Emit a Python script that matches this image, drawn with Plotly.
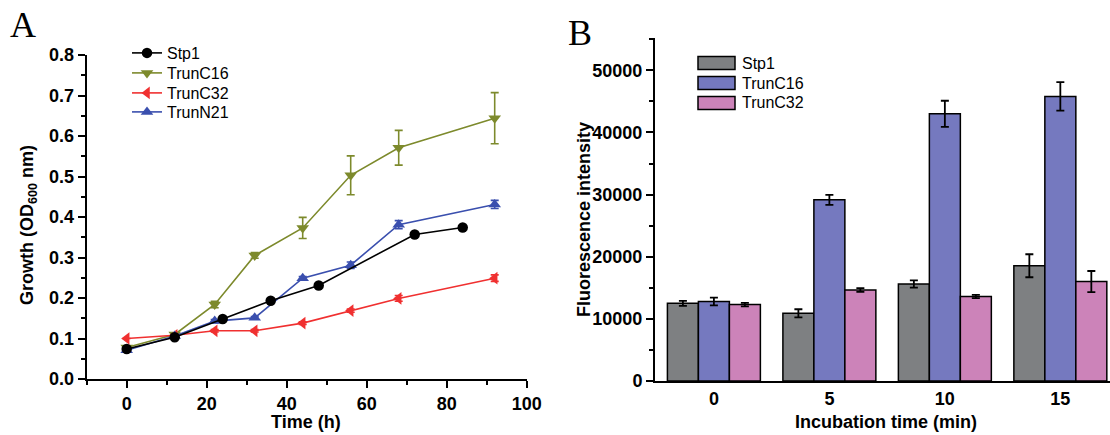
import plotly.graph_objects as go

# ---------------- Panel A data ----------------
time_h = [0, 12, 22, 32, 44, 56, 68, 92]
stp1_time = [0, 12, 24, 36, 48, 72, 84]
stp1_od = [0.074, 0.103, 0.148, 0.193, 0.231, 0.357, 0.374]
trunc16_od = [0.078, 0.110, 0.184, 0.305, 0.373, 0.503, 0.571, 0.644]
trunc16_err = [0.0, 0.004, 0.008, 0.007, 0.026, 0.048, 0.043, 0.063]
trunc32_od = [0.100, 0.108, 0.119, 0.119, 0.138, 0.169, 0.199, 0.249]
trunc32_err = [0.0, 0.002, 0.003, 0.003, 0.003, 0.004, 0.007, 0.008]
truncn21_od = [0.071, 0.106, 0.143, 0.151, 0.249, 0.281, 0.381, 0.431]
truncn21_err = [0.0, 0.003, 0.004, 0.003, 0.004, 0.008, 0.010, 0.010]

# ---------------- Panel B data ----------------
incubation_min = ["0", "5", "10", "15"]
stp1_fluo = [12500, 10900, 15600, 18550]
stp1_fluo_err = [400, 650, 580, 1850]
trunc16_fluo = [12800, 29150, 43000, 45800]
trunc16_fluo_err = [620, 800, 2100, 2300]
trunc32_fluo = [12300, 14650, 13600, 16000]
trunc32_fluo_err = [280, 300, 250, 1700]

W, H = 1110, 435
FONT = "Liberation Sans"


def px(x):
    return x / W


def py(y):
    return 1 - y / H


col_black = "#000000"
col_olive = "#7d8a2c"
col_red = "#f03030"
col_blue = "#3a4fae"
bar_gray = "#7e8082"
bar_blue = "#7579bf"
bar_pink = "#cc83b9"

fig = go.Figure()

# Panel A traces (each in its own single-item legend so the rows sit where the original has them)
fig.add_trace(go.Scatter(
    x=time_h, y=trunc16_od, name="TrunC16", mode="lines+markers",
    line=dict(color=col_olive, width=1.6),
    marker=dict(symbol="triangle-down", size=11, color=col_olive),
    error_y=dict(type="data", array=trunc16_err, color=col_olive, thickness=1.6, width=4),
    legend="legend2", xaxis="x", yaxis="y"))
fig.add_trace(go.Scatter(
    x=time_h, y=trunc32_od, name="TrunC32", mode="lines+markers",
    line=dict(color=col_red, width=1.6),
    marker=dict(symbol="triangle-left", size=11, color=col_red),
    error_y=dict(type="data", array=trunc32_err, color=col_red, thickness=1.6, width=4),
    legend="legend3", xaxis="x", yaxis="y"))
fig.add_trace(go.Scatter(
    x=time_h, y=truncn21_od, name="TrunN21", mode="lines+markers",
    line=dict(color=col_blue, width=1.6),
    marker=dict(symbol="triangle-up", size=11, color=col_blue),
    error_y=dict(type="data", array=truncn21_err, color=col_blue, thickness=1.6, width=4),
    legend="legend4", xaxis="x", yaxis="y"))
fig.add_trace(go.Scatter(
    x=stp1_time, y=stp1_od, name="Stp1", mode="lines+markers",
    line=dict(color=col_black, width=1.6),
    marker=dict(symbol="circle", size=10.5, color=col_black),
    legend="legend", xaxis="x", yaxis="y"))

# Panel B traces
for name, vals, errs, col in [
    ("Stp1", stp1_fluo, stp1_fluo_err, bar_gray),
    ("TrunC16", trunc16_fluo, trunc16_fluo_err, bar_blue),
    ("TrunC32", trunc32_fluo, trunc32_fluo_err, bar_pink),
]:
    fig.add_trace(go.Bar(
        x=incubation_min, y=vals, name=name, showlegend=False,
        marker=dict(color=col, line=dict(color="black", width=1.5)),
        error_y=dict(type="data", array=errs, color="black", thickness=1.8, width=4),
        xaxis="x2", yaxis="y2"))

tickfont = dict(family=FONT, size=18, color="black", weight="bold")
common_axis = dict(showline=True, linecolor="black", linewidth=2, showgrid=False,
                   zeroline=False, ticks="outside", tickcolor="black", tickwidth=2,
                   ticklen=7, tickfont=tickfont, automargin=False)


def leg(yc):
    return dict(x=px(127), y=py(yc), xanchor="left", yanchor="middle",
                bgcolor="rgba(0,0,0,0)", borderwidth=0,
                font=dict(family=FONT, size=16, color="black"),
                tracegroupgap=0, itemwidth=30)


fig.update_layout(
    width=W, height=H,
    margin=dict(l=0, r=0, t=0, b=0, autoexpand=False),
    paper_bgcolor="white", plot_bgcolor="white",
    font=dict(family=FONT, color="black"),
    barmode="group", bargap=0.195, bargroupgap=0,
    xaxis=dict(domain=[px(86.7), px(526.7)], range=[-10, 100], anchor="y",
               tickvals=[0, 20, 40, 60, 80, 100],
               minor=dict(dtick=10, tick0=0, ticks="outside", ticklen=4,
                          tickwidth=2, tickcolor="black"),
               **common_axis),
    yaxis=dict(domain=[py(379), py(55)], range=[0, 0.8], anchor="x",
               dtick=0.1, tick0=0, tickformat=".1f",
               minor=dict(dtick=0.05, tick0=0, ticks="outside", ticklen=4,
                          tickwidth=2, tickcolor="black"),
               **common_axis),
    xaxis2=dict(domain=[px(655), 1.0], range=[-0.51, 3.43], anchor="y2",
                type="category", showline=True, linecolor="black", linewidth=2,
                showgrid=False, zeroline=False, ticks="", tickfont=tickfont,
                automargin=False),
    yaxis2=dict(domain=[py(381), py(38)], range=[0, 55200], anchor="x2",
                dtick=10000, tick0=0, tickformat="d",
                minor=dict(dtick=5000, tick0=0, ticks="outside", ticklen=4,
                           tickwidth=2, tickcolor="black"),
                **common_axis),
    legend=leg(53),
    legend2=leg(73),
    legend3=leg(93),
    legend4=leg(112),
)

titlefont = dict(family=FONT, size=18, color="black", weight="bold")
annotations = [
    dict(text="A", x=px(23), y=py(25), font=dict(family="Liberation Serif", size=36, color="black")),
    dict(text="B", x=px(580), y=py(33), font=dict(family="Liberation Serif", size=36, color="black")),
    dict(text="Growth (OD<sub>600</sub> nm)", x=px(28), y=py(225), textangle=-90, font=titlefont),
    dict(text="Time (h)", x=px(306), y=py(422), font=titlefont),
    dict(text="Fluorescence intensity", x=px(584), y=py(220), textangle=-90, font=titlefont),
    dict(text="Incubation time (min)", x=px(886), y=py(422), font=titlefont),
]
for a in annotations:
    a.update(xref="paper", yref="paper", showarrow=False, xanchor="center", yanchor="middle")
    fig.add_annotation(**a)

# Custom legend for panel B (wide swatches as in the original)
legend_b = [("Stp1", bar_gray, 63), ("TrunC16", bar_blue, 83), ("TrunC32", bar_pink, 103)]
for name, col, yc in legend_b:
    fig.add_shape(type="rect", xref="paper", yref="paper",
                  x0=px(698), x1=px(735), y0=py(yc + 6.5), y1=py(yc - 6.5),
                  fillcolor=col, line=dict(color="black", width=1.5))
    fig.add_annotation(text=name, xref="paper", yref="paper", x=px(740), y=py(yc),
                       xanchor="left", yanchor="middle", showarrow=False,
                       font=dict(family=FONT, size=16, color="black"))

fig.write_html(
    "out.html",
    config={"displayModeBar": False},
    post_script="document.body.style.margin='0';document.body.style.overflow='hidden';",
)
